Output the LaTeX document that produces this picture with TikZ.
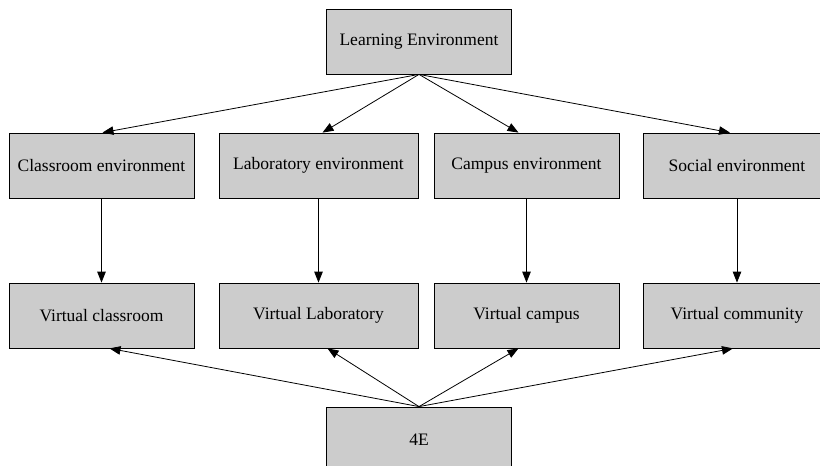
\documentclass[tikz,border=0pt]{standalone}
\usepackage{fontspec}
\setmainfont{Liberation Serif}
\usetikzlibrary{arrows.meta}
\definecolor{boxgray}{gray}{0.8}
\tikzset{
  box/.style={draw, fill=boxgray, minimum width=185pt, minimum height=65pt,
    inner sep=0pt, font=\fontsize{17.5}{20}\selectfont},
  >={Triangle[length=11pt,width=8.5pt]}
}
\begin{document}
\begin{tikzpicture}[x=1pt,y=-1pt,line width=0.8pt]
      \path[use as bounding box, clip] (0,0) rectangle (820,466);
      \draw
        (419,41.5) node[box] (le){Learning Environment}
        (101.5,165.5) node[box] (ce){Classroom environment}
        (318.5,165.5) node[box, minimum width=199pt] (lbe){Laboratory environment}
        (526.5,165.5) node[box] (cpe){Campus environment}
        (737,165.5) node[box, minimum width=188pt] (se){Social environment}
        (101.5,315.5) node[box] (vc){Virtual classroom}
        (318.5,315.5) node[box, minimum width=199pt] (vl){Virtual Laboratory}
        (526.5,315.5) node[box] (vcp){Virtual campus}
        (737,315.5) node[box, minimum width=188pt] (vcm){Virtual community}
        (419,439.5) node[box] (fe){4E};
      \begin{scope}[->]
        \draw (le.south) to ([xshift=1pt]ce.north);
        \draw (le.south) to ([xshift=4pt]lbe.north);
        \draw (le.south) to ([xshift=-8pt]cpe.north);
        \draw (le.south) to ([xshift=-7pt]se.north);
        \draw (ce) to (vc);
        \draw (lbe) to (vl);
        \draw (cpe) to (vcp);
        \draw (se) to (vcm);
        \draw (fe.north) to ([xshift=8pt]vc.south);
        \draw (fe.north) to ([xshift=9pt]vl.south);
        \draw (fe.north) to ([xshift=-8pt]vcp.south);
        \draw (fe.north) to ([xshift=-4pt]vcm.south);
      \end{scope}
    \end{tikzpicture}
\end{document}
